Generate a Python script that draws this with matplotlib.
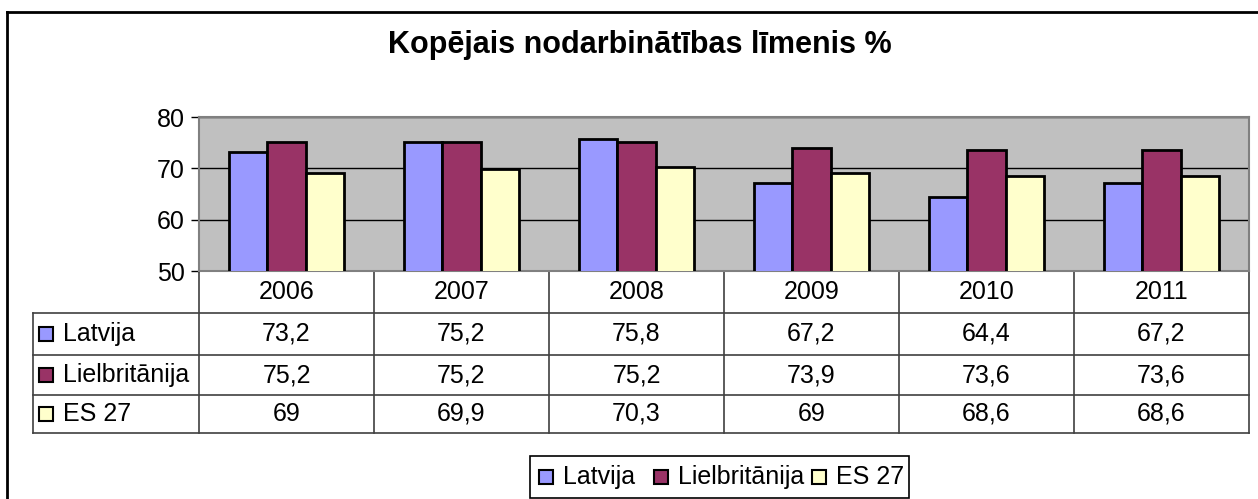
import matplotlib.pyplot as plt
import numpy as np
from matplotlib.patches import Rectangle

plt.rcParams["font.family"] = ["Liberation Sans", "DejaVu Sans"]

years = ["2006", "2007", "2008", "2009", "2010", "2011"]
series_names = ["Latvija", "Lielbritānija", "ES 27"]
latvija = [73.2, 75.2, 75.8, 67.2, 64.4, 67.2]
lielbritanija = [75.2, 75.2, 75.2, 73.9, 73.6, 73.6]
es27 = [69, 69.9, 70.3, 69, 68.6, 68.6]
colors = ["#9999FF", "#993366", "#FFFFCC"]

W, H = 1258, 499
FS = 18
fig = plt.figure(figsize=(W / 100, H / 100), dpi=100)

# pixel-space overlay for frame, table and legend
over = fig.add_axes([0, 0, 1, 1])
over.set_xlim(0, W)
over.set_ylim(H, 0)
over.axis("off")

# plot area in pixels
px0, px1 = 199, 1249
py0, py1 = 117, 271
ax = fig.add_axes([px0 / W, 1 - py1 / H, (px1 - px0) / W, (py1 - py0) / H])
ax.set_facecolor("#C0C0C0")
x = np.arange(len(years))
width = 0.22
for i, (vals, col) in enumerate(zip([latvija, lielbritanija, es27], colors)):
    ax.bar(x + (i - 1) * width, vals, width, color=col, edgecolor="black",
           linewidth=2, zorder=3)
ax.set_xlim(-0.5, len(years) - 0.5)
ax.set_ylim(50, 80)
ax.set_yticks([50, 60, 70, 80])
ax.tick_params(axis="y", labelsize=FS, length=6, width=1, pad=4)
ax.set_xticks([])
ax.grid(axis="y", color="black", linewidth=1, zorder=0)
for side, sp in ax.spines.items():
    sp.set_color("#808080")
    sp.set_linewidth(1.5)

# outer frame
over.plot([7, W], [12, 12], color="black", lw=2)
over.plot([7, 7], [12, H], color="black", lw=2)

# title
over.text(640, 45, "Kopējais nodarbinātības līmenis %", ha="center", va="center",
          fontsize=22, fontweight="bold")

# data table
col_w = (px1 - px0) / len(years)
row_y = [271, 313, 355, 395, 433]
lab_x0 = 33
line_kw = dict(color="#404040", lw=1.2)
for j in range(len(years) + 1):
    xx = px0 + j * col_w
    over.plot([xx, xx], [row_y[0], row_y[-1]], **line_kw)
over.plot([lab_x0, lab_x0], [row_y[1], row_y[-1]], **line_kw)
for yy in row_y[1:]:
    over.plot([lab_x0, px1], [yy, yy], **line_kw)
for j, yr in enumerate(years):
    over.text(px0 + (j + 0.5) * col_w, (row_y[0] + row_y[1]) / 2, yr,
              ha="center", va="center", fontsize=FS)
for r, (name, vals, col) in enumerate(zip(series_names, [latvija, lielbritanija, es27], colors)):
    cy = (row_y[r + 1] + row_y[r + 2]) / 2
    over.add_patch(Rectangle((39, cy - 7), 14, 14, facecolor=col, edgecolor="black", lw=1.5))
    over.text(63, cy, name, ha="left", va="center", fontsize=FS)
    for j, v in enumerate(vals):
        txt = f"{v:g}".replace(".", ",")
        over.text(px0 + (j + 0.5) * col_w, cy, txt, ha="center", va="center", fontsize=FS)

# legend
over.add_patch(Rectangle((530, 456), 379, 42, facecolor="white", edgecolor="black", lw=1.2))
for lx, name, col in zip([539, 654, 812], series_names, colors):
    over.add_patch(Rectangle((lx, 470), 14, 14, facecolor=col, edgecolor="black", lw=1.5))
    over.text(lx + 24, 477, name, ha="left", va="center", fontsize=FS)

fig.savefig("out.png", dpi=100)
